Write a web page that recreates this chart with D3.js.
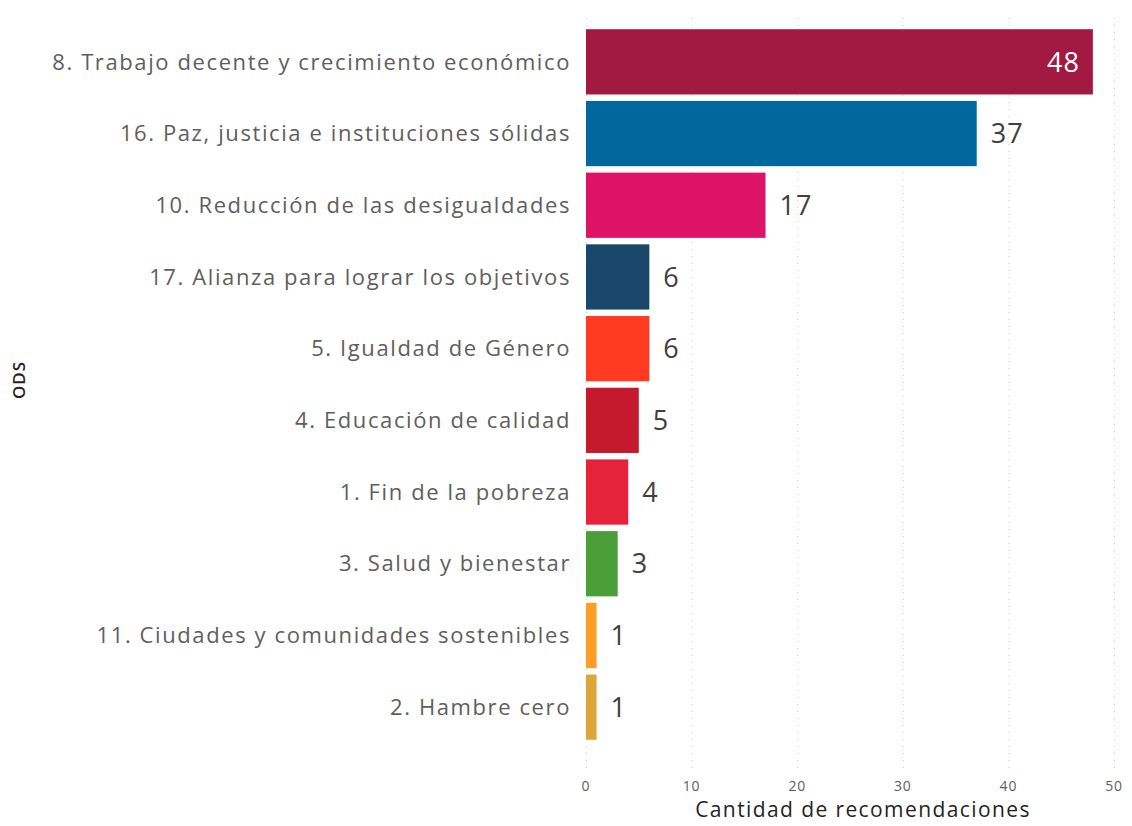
<!DOCTYPE html>
<html>
<head>
<meta charset="utf-8">
<script src="https://cdn.jsdelivr.net/npm/d3@7"></script>
<style>
  body { margin: 0; background: #fff; }
  svg { display: block; font-family: "Open Sans", "DejaVu Sans", sans-serif; }
  .grid line { stroke: #c8c8c8; stroke-dasharray: 1 6; }
  .grid path { display: none; }
</style>
</head>
<body>
<div id="chart"></div>
<script>
const categories = [
  "8. Trabajo decente y crecimiento económico",
  "16. Paz, justicia e instituciones sólidas",
  "10. Reducción de las desigualdades",
  "17. Alianza para lograr los objetivos",
  "5. Igualdad de Género",
  "4. Educación de calidad",
  "1. Fin de la pobreza",
  "3. Salud y bienestar",
  "11. Ciudades y comunidades sostenibles",
  "2. Hambre cero",
];
const values = [48, 37, 17, 6, 6, 5, 4, 3, 1, 1];
const colors = [
  "#A21942", "#00689D", "#DD1367", "#19486A", "#FF3A21",
  "#C5192D", "#E5243B", "#4C9F38", "#FD9D24", "#DDA63A",
];
const xTicks = [0, 10, 20, 30, 40, 50];
const xTitle = "Cantidad de recomendaciones";
const yTitle = "ODS";

const width = 1132;
const height = 826;
const margin = { top: 26, right: 18, bottom: 83, left: 586 };

const svg = d3.select("#chart")
  .append("svg")
  .attr("width", width)
  .attr("height", height);

const x = d3.scaleLinear()
  .domain([0, 50])
  .range([margin.left, 1114]);

const y = d3.scaleBand()
  .domain(categories)
  .range([margin.top, height - margin.bottom])
  .paddingInner(0.09)
  .paddingOuter(0.045);

const data = categories.map((c, i) => ({ name: c, value: values[i], color: colors[i] }));

// dotted vertical gridlines
svg.append("g")
  .attr("class", "grid")
  .attr("transform", `translate(0,${768})`)
  .call(d3.axisBottom(x).tickValues(xTicks).tickSize(-752).tickFormat(""));

// x tick labels
svg.append("g")
  .selectAll("text")
  .data(xTicks)
  .join("text")
  .attr("x", (d) => x(d))
  .attr("y", 791)
  .attr("text-anchor", "middle")
  .attr("fill", "#605E5C")
  .attr("font-size", 14)
  .attr("letter-spacing", 0.8)
  .text((d) => d);

svg.append("text")
  .attr("x", 863)
  .attr("y", 817)
  .attr("text-anchor", "middle")
  .attr("fill", "#252423")
  .attr("font-size", 21)
  .attr("letter-spacing", 1.4)
  .text(xTitle);

svg.append("text")
  .attr("transform", `translate(25,${380}) rotate(-90)`)
  .attr("text-anchor", "middle")
  .attr("fill", "#252423")
  .attr("font-size", 17)
  .attr("font-weight", 600)
  .attr("letter-spacing", 1)
  .text(yTitle);

// category labels
svg.append("g")
  .selectAll("text")
  .data(data)
  .join("text")
  .attr("x", margin.left - 15)
  .attr("y", (d) => y(d.name) + y.bandwidth() / 2)
  .attr("dy", "0.35em")
  .attr("text-anchor", "end")
  .attr("fill", "#605E5C")
  .attr("font-size", 22)
  .attr("letter-spacing", 1.6)
  .text((d) => d.name);

// bars
svg.append("g")
  .selectAll("rect")
  .data(data)
  .join("rect")
  .attr("x", x(0))
  .attr("y", (d) => y(d.name))
  .attr("width", (d) => x(d.value) - x(0))
  .attr("height", y.bandwidth())
  .attr("fill", (d) => d.color);

// value labels
svg.append("g")
  .selectAll("text")
  .data(data)
  .join("text")
  .attr("x", (d) => (d.value > 45 ? x(d.value) - 13 : x(d.value) + 14))
  .attr("y", (d) => y(d.name) + y.bandwidth() / 2)
  .attr("dy", "0.36em")
  .attr("text-anchor", (d) => (d.value > 45 ? "end" : "start"))
  .attr("fill", (d) => (d.value > 45 ? "#ffffff" : "#404040"))
  .attr("font-size", 27)
  .attr("font-weight", 500)
  .attr("letter-spacing", 1)
  .text((d) => d.value);
</script>
</body>
</html>
